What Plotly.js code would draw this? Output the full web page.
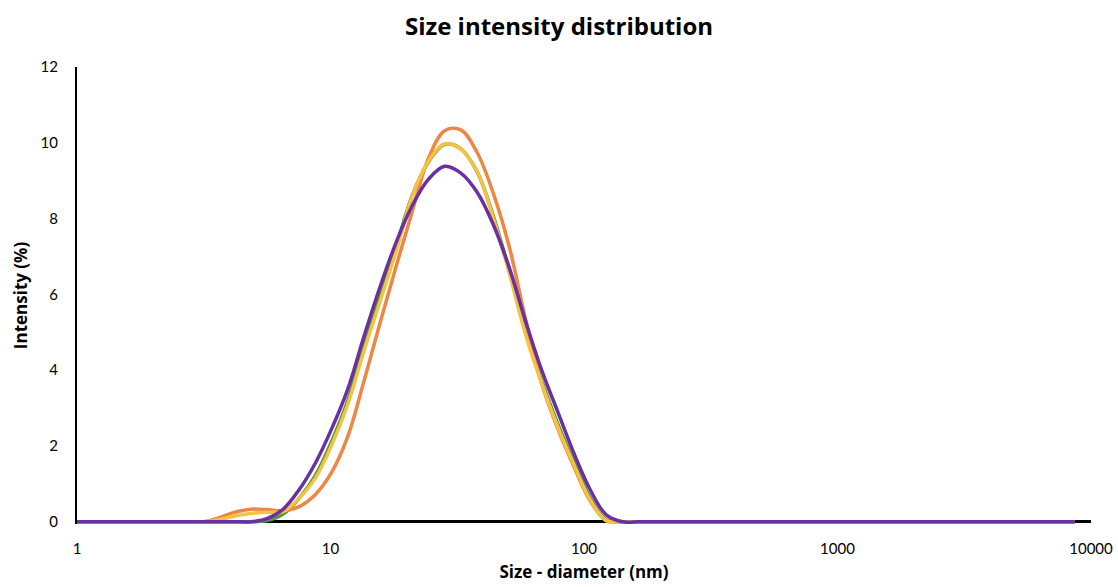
<!DOCTYPE html>
<html>
<head>
<meta charset="utf-8">
<script src="https://cdn.plot.ly/plotly-3.0.1.min.js"></script>
<style>html,body{margin:0;padding:0;background:#fff;}#chart{width:1118px;height:587px;}</style>
</head>
<body>
<div id="chart"></div>
<script>
// Size bins (nm)
const sizes = [1, 1.117, 1.294, 1.499, 1.736, 2.01, 2.328, 2.696, 3.122, 3.615, 4.187, 4.849, 5.615, 6.503, 7.531, 8.721, 10.1, 11.7, 13.54, 15.69, 18.17, 21.04, 24.36, 28.21, 32.67, 37.84, 43.82, 50.75, 58.77, 68.06, 78.82, 91.28, 105.7, 122.4, 141.8, 164.2, 190.1, 220.2, 255, 295.3, 342, 396.1, 458.7, 531.2, 615.1, 712.4, 825, 955.4, 1106, 1281, 1484, 1718, 1990, 2305, 2669, 3091, 3580, 4145, 4801, 5560, 6439, 7456, 8635];

// Intensity (%) per series
const greenSeries = [0,0,0,0,0,0,0,0,0,0,0,0,0.03,0.20,0.62,1.22,2.12,3.20,4.62,5.95,7.28,8.62,9.50,9.96,9.84,9.24,8.08,6.62,5.02,3.72,2.58,1.58,0.64,0.05,0,0,0,0,0,0,0,0,0,0,0,0,0,0,0,0,0,0,0,0,0,0,0,0,0,0,0,0,0];
const orangeSeries = [0,0,0,0,0,0,0,0,0,0.10,0.25,0.33,0.32,0.29,0.40,0.72,1.30,2.25,3.70,5.25,6.75,8.20,9.60,10.32,10.34,9.75,8.68,7.25,5.35,3.65,2.45,1.45,0.55,0.03,0,0,0,0,0,0,0,0,0,0,0,0,0,0,0,0,0,0,0,0,0,0,0,0,0,0,0,0,0];
const yellowSeries = [0,0,0,0,0,0,0,0,0,0.05,0.15,0.22,0.25,0.27,0.62,1.15,2.02,3.10,4.50,5.82,7.15,8.60,9.52,9.97,9.83,9.25,8.03,6.55,4.95,3.65,2.50,1.50,0.58,0.03,0,0,0,0,0,0,0,0,0,0,0,0,0,0,0,0,0,0,0,0,0,0,0,0,0,0,0,0,0];
const purpleSeries = [0,0,0,0,0,0,0,0,0,0,0,0,0.08,0.33,0.85,1.55,2.45,3.50,4.88,6.20,7.38,8.35,9.04,9.38,9.20,8.70,7.85,6.70,5.30,4.00,2.90,1.80,0.85,0.18,0,0,0,0,0,0,0,0,0,0,0,0,0,0,0,0,0,0,0,0,0,0,0,0,0,0,0,0,0];

const seriesNames = ['Record 1', 'Record 2', 'Record 3', 'Record 4'];
const seriesData = [greenSeries, orangeSeries, yellowSeries, purpleSeries];
const seriesColors = ['#4F9A3C', '#EC8745', '#F5C242', '#6A2FA0'];

const xTickVals = [1, 10, 100, 1000, 10000];
const xTickText = ['1', '10', '100', '1000', '10000'];

const traces = seriesData.map((ys, i) => ({
  type: 'scatter',
  mode: 'lines',
  name: seriesNames[i],
  x: sizes,
  y: ys,
  line: {color: seriesColors[i], width: 3.5, shape: 'spline', smoothing: 1},
  showlegend: false,
  hoverinfo: 'x+y'
}));

const tickFont = 'Lato, "Open Sans", sans-serif';
const titleFont = '"Open Sans", Lato, sans-serif';

const layout = {
  width: 1118,
  height: 587,
  paper_bgcolor: '#ffffff',
  plot_bgcolor: '#ffffff',
  margin: {l: 77, r: 27, t: 67, b: 63},
  font: {family: tickFont, size: 15, color: '#000'},
  title: {
    text: 'Size intensity distribution',
    font: {family: titleFont, size: 24, color: '#000', weight: 700},
    x: 0.5, xanchor: 'center', xref: 'container',
    y: 1 - 27/587, yanchor: 'middle', yref: 'container'
  },
  xaxis: {
    type: 'log',
    range: [0, 4],
    tickvals: xTickVals,
    ticktext: xTickText,
    showgrid: false,
    zeroline: false,
    showline: false,
    ticks: '',
    ticklabelstandoff: 14,
    tickfont: {family: tickFont, size: 15, color: '#000'},
    title: {text: 'Size - diameter (nm)', font: {family: titleFont, size: 17, color: '#000', weight: 700}, standoff: 10}
  },
  yaxis: {
    range: [-0.06, 12],
    tickvals: [0, 2, 4, 6, 8, 10, 12],
    showgrid: false,
    zeroline: true,
    zerolinecolor: '#000',
    zerolinewidth: 2.5,
    showline: true,
    linecolor: '#000',
    linewidth: 2,
    ticks: '',
    ticklabelstandoff: 14,
    layer: 'below traces',
    tickfont: {family: tickFont, size: 15, color: '#000'},
    title: {text: 'Intensity (%)', font: {family: titleFont, size: 17, color: '#000', weight: 700}, standoff: 9}
  }
};

Plotly.newPlot('chart', traces, layout, {displayModeBar: false, staticPlot: true});
</script>
</body>
</html>
